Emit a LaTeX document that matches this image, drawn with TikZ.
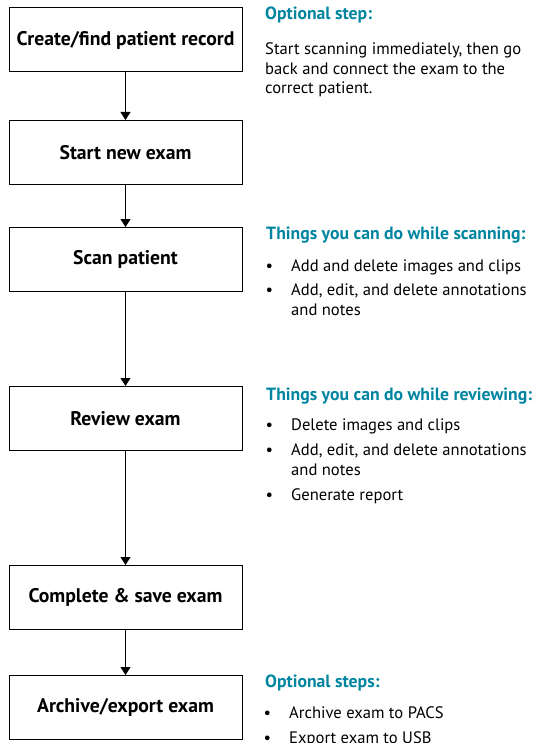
\documentclass[tikz,border=0pt]{standalone}
\usepackage{fontspec}
\setmainfont{PT Sans}
\usetikzlibrary{arrows.meta,positioning}
\definecolor{headteal}{RGB}{0,133,160}
\tikzset{
  stepbox/.style={rectangle,draw,line width=1pt,minimum width=233pt,minimum height=64pt,font=\fontsize{19.7}{22}\selectfont\bfseries},
  arr/.style={-{Triangle[length=8pt,width=10pt]},line width=0.8pt},
  head/.style={anchor=base west,inner sep=0pt,text=headteal,font=\fontsize{17.7}{20}\selectfont\bfseries},
  note/.style={anchor=base west,inner sep=0pt,align=left,font=\fontsize{16.6}{19.5}\selectfont},
}
\newcommand{\bul}{\llap{\textbullet\hspace{18pt}}}
\begin{document}
\begin{tikzpicture}[x=1pt,y=-1pt]
\useasboundingbox (0,0) rectangle (533,743);
% workflow boxes
\node[stepbox] (create) at (125.5,40) {Create/find patient record};
\node[stepbox, below=47.5pt of create] (start) {Start new exam};
\node[stepbox, below=42pt of start] (scan) {Scan patient};
\node[stepbox, below=94pt of scan] (review) {Review exam};
\node[stepbox, below=114pt of review] (save) {Complete \& save exam};
\node[stepbox, below=45pt of save] (archive) {Archive/export exam};
\draw[arr] (create) -- (start);
\draw[arr] (start) -- (scan);
\draw[arr] (scan) -- (review);
\draw[arr] (review) -- (save);
\draw[arr] (save) -- (archive);
% side notes (multi-line nodes sit on their last line)
\node[head] (opthead) at (265,20) {Optional step:};
\node[note] (optnote) at (265,94) {Start scanning immediately, then go\\back and connect the exam to the\\correct patient.};
\node[head] (scanhead) at (266,239) {Things you can do while scanning:};
\node[note] (scan1) at (291,271) {\bul Add and delete images and clips};
\node[note] (scan2) at (291,315) {\bul Add, edit, and delete annotations\\and notes};
\node[head] (revhead) at (266,400) {Things you can do while reviewing:};
\node[note] (rev1) at (291,430) {\bul Delete images and clips};
\node[note] (rev2) at (291,475) {\bul Add, edit, and delete annotations\\and notes};
\node[note] (rev3) at (291,500) {\bul Generate report};
\node[head] (archhead) at (265,687) {Optional steps:};
\node[note] (arch1) at (289,718) {\bul Archive exam to PACS};
\node[note] (arch2) at (289,743) {\bul Export exam to USB};
\end{tikzpicture}
\end{document}
